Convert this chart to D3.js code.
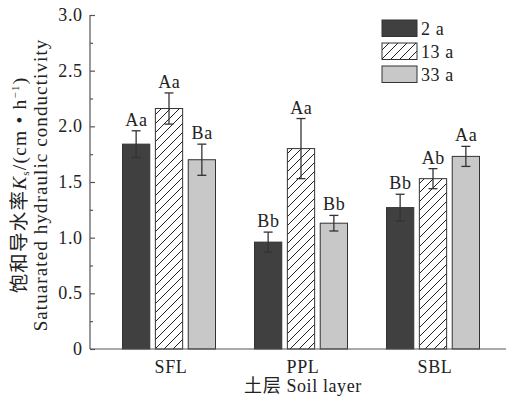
<!DOCTYPE html>
<html>
<head>
<meta charset="utf-8">
<script src="https://cdn.jsdelivr.net/npm/d3@7"></script>
<style>
  html, body { margin: 0; padding: 0; background: #fff; }
  svg text { font-family: "Liberation Serif", "Noto Sans CJK SC", serif; fill: #222; }
</style>
</head>
<body>
<svg id="chart" width="511" height="397"></svg>
<script>
// Soil layers and stand ages
const layers = ["SFL", "PPL", "SBL"];
const ages = ["2 a", "13 a", "33 a"];

// Saturated hydraulic conductivity (cm/h), per age, in layer order
const ks2 = [1.84, 0.96, 1.27];
const ks13 = [2.16, 1.80, 1.53];
const ks33 = [1.70, 1.13, 1.73];

// Standard errors
const se2 = [0.12, 0.09, 0.12];
const se13 = [0.14, 0.27, 0.09];
const se33 = [0.14, 0.07, 0.09];

// Significance letters
const sig2 = ["Aa", "Bb", "Bb"];
const sig13 = ["Aa", "Aa", "Ab"];
const sig33 = ["Ba", "Bb", "Aa"];

const yTicks = [0, 0.5, 1.0, 1.5, 2.0, 2.5, 3.0];
const yTickLabels = ["0", "0.5", "1.0", "1.5", "2.0", "2.5", "3.0"];

const seriesVals = [ks2, ks13, ks33];
const seriesErr = [se2, se13, se33];
const seriesSig = [sig2, sig13, sig33];

const rows = [];
layers.forEach((l, i) => ages.forEach((a, j) => rows.push({
  layer: l, age: a, idx: j, v: seriesVals[j][i], e: seriesErr[j][i], s: seriesSig[j][i]
})));

const svg = d3.select("#chart");
const axisColor = "#555";
const strokeCol = "#333";
const fs = 18;      // base font size
const ls = 0.6;     // letter spacing

const y = d3.scaleLinear().domain([0, 3]).range([349, 15]);
const x0 = d3.scaleBand().domain(layers).range([103, 499]).padding(0);
const x1 = d3.scaleBand().domain(ages).range([19.5, 112.5]).paddingInner(0.17).paddingOuter(0);

// hatch pattern for 13 a
const defs = svg.append("defs");
const pat = defs.append("pattern")
  .attr("id", "hatch").attr("patternUnits", "userSpaceOnUse")
  .attr("width", 9).attr("height", 9);
pat.append("rect").attr("width", 9).attr("height", 9).attr("fill", "#fff");
pat.append("path").attr("d", "M-1,10 L10,-1 M-4,4 L4,-4 M5,14 L14,5")
  .attr("stroke", "#222").attr("stroke-width", 1);

const fills = ["#404040", "url(#hatch)", "#c8c8c8"];

// bars
const bars = svg.append("g");
bars.selectAll("rect").data(rows).join("rect")
  .attr("x", d => x0(d.layer) + x1(d.age))
  .attr("y", d => y(d.v))
  .attr("width", x1.bandwidth())
  .attr("height", d => y(0) - y(d.v))
  .attr("fill", d => fills[d.idx])
  .attr("stroke", strokeCol).attr("stroke-width", 1);

// error bars
const eb = svg.append("g").attr("stroke", strokeCol).attr("stroke-width", 1.3).attr("fill", "none");
rows.forEach(d => {
  const cx = x0(d.layer) + x1(d.age) + x1.bandwidth() / 2;
  eb.append("line").attr("x1", cx).attr("x2", cx).attr("y1", y(d.v + d.e)).attr("y2", y(d.v - d.e));
  eb.append("line").attr("x1", cx - 4.5).attr("x2", cx + 4.5).attr("y1", y(d.v + d.e)).attr("y2", y(d.v + d.e));
  eb.append("line").attr("x1", cx - 4.5).attr("x2", cx + 4.5).attr("y1", y(d.v - d.e)).attr("y2", y(d.v - d.e));
});

// significance labels
svg.append("g").selectAll("text").data(rows).join("text")
  .attr("x", d => x0(d.layer) + x1(d.age) + x1.bandwidth() / 2 + ls / 2)
  .attr("y", d => y(d.v + d.e) - 5)
  .attr("text-anchor", "middle").attr("font-size", fs).attr("letter-spacing", ls)
  .text(d => d.s);

// y axis with inward major and minor ticks
const yAxis = d3.axisRight(y).tickValues(yTicks).tickSize(5).tickFormat("");
const yg = svg.append("g").attr("transform", "translate(90,0)").call(yAxis);
yg.select(".domain").attr("d", `M0,${y(3)}V${y(0)}`);
const yMinor = d3.axisRight(y).tickValues(d3.range(0.25, 3, 0.5)).tickSize(3).tickFormat("");
const ym = svg.append("g").attr("transform", "translate(90,0)").call(yMinor);
ym.select(".domain").remove();
svg.selectAll(".tick line, .domain").attr("stroke", axisColor).attr("stroke-width", 1.2);

svg.append("g").selectAll("text").data(yTicks).join("text")
  .attr("x", 82 + ls).attr("y", d => y(d) + 6)
  .attr("text-anchor", "end").attr("font-size", fs).attr("letter-spacing", ls)
  .text((d, i) => yTickLabels[i]);

// x axis
svg.append("line").attr("x1", 90).attr("x2", 506).attr("y1", y(0)).attr("y2", y(0))
  .attr("stroke", axisColor).attr("stroke-width", 1.2);
svg.append("g").selectAll("text").data(layers).join("text")
  .attr("x", d => x0(d) + x0.bandwidth() / 2 + 2)
  .attr("y", 373).attr("text-anchor", "middle").attr("font-size", fs).attr("letter-spacing", ls)
  .text(d => d);

svg.append("text").attr("x", 303).attr("y", 392).attr("text-anchor", "middle")
  .attr("font-size", fs).attr("letter-spacing", ls).text("土层 Soil layer");

// y axis title (two lines)
const t1 = svg.append("text").attr("transform", "translate(26,185) rotate(-90)")
  .attr("text-anchor", "middle").attr("font-size", 19.5).attr("letter-spacing", 1.2);
t1.append("tspan").text("饱和导水率");
t1.append("tspan").attr("font-style", "italic").text("K");
t1.append("tspan").attr("font-size", 11).attr("dy", 3).text("s");
t1.append("tspan").attr("dy", -3).text("/(cm • h");
t1.append("tspan").attr("font-size", 11).attr("dy", -7).text("−1");
t1.append("tspan").attr("dy", 7).text(")");

svg.append("text").attr("transform", "translate(47,185) rotate(-90)")
  .attr("text-anchor", "middle").attr("font-size", 19).attr("letter-spacing", 1.1)
  .text("Satuarated hydraulic conductivity");

// legend
const lg = svg.append("g");
ages.forEach((a, i) => {
  const ly = 20 + i * 23;
  lg.append("rect").attr("x", 382).attr("y", ly).attr("width", 35).attr("height", 16.5)
    .attr("fill", fills[i]).attr("stroke", strokeCol).attr("stroke-width", 1);
  lg.append("text").attr("x", 421).attr("y", ly + 15).attr("font-size", fs)
    .attr("letter-spacing", ls).text(a);
});
</script>
</body>
</html>
